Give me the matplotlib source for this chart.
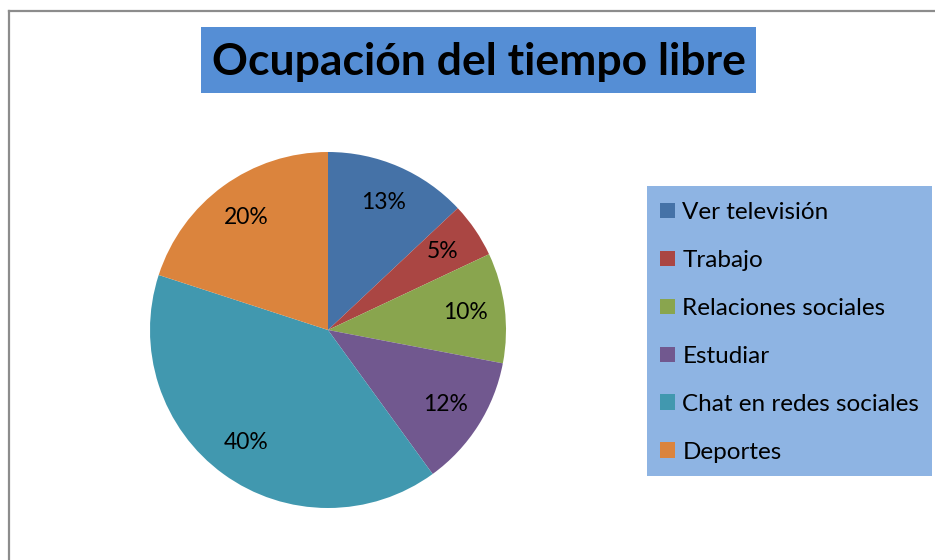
import matplotlib.pyplot as plt
from matplotlib.patches import Rectangle
from matplotlib.lines import Line2D

# data
categorias = ['Ver televisión', 'Trabajo', 'Relaciones sociales', 'Estudiar',
              'Chat en redes sociales', 'Deportes']
porcentajes = [13, 5, 10, 12, 40, 20]
colores = ['#4572A7', '#AA4643', '#89A54E', '#71588F', '#4198AF', '#DB843D']
titulo = 'Ocupación del tiempo libre'

W, H = 935, 560
plt.rcParams['font.family'] = ['Lato', 'DejaVu Sans']

fig = plt.figure(figsize=(W / 100, H / 100), dpi=100)


def fx(x):
    return x / W


def fy(y):
    return 1 - y / H


# chart border (only left and top visible)
fig.add_artist(Line2D([fx(9), fx(9)], [fy(11), 0], color='#8c8c8c', lw=1.6))
fig.add_artist(Line2D([fx(9), 1], [fy(11), fy(11)], color='#8c8c8c', lw=1.6))

# title box
fig.add_artist(Rectangle((fx(201), fy(93)), fx(756) - fx(201), fy(27) - fy(93),
                         transform=fig.transFigure, facecolor='#558ED5', edgecolor='none'))
fig.text(fx(479), fy(62), titulo, ha='center', va='center', fontsize=32,
         fontweight='bold', color='black')

# pie
cx, cy, r = 328, 330, 178
ax = fig.add_axes([fx(cx - r), fy(cy + r), 2 * r / W, 2 * r / H])
wedges, textos, autotextos = ax.pie(porcentajes, colors=colores, startangle=90,
                                    counterclock=False, autopct='%1.0f%%',
                                    pctdistance=0.78, wedgeprops=dict(linewidth=0),
                                    textprops=dict(fontsize=16.5, color='black'))
ax.set_xlim(-1, 1)
ax.set_ylim(-1, 1)
ax.set_aspect('equal')

# legend box
fig.add_artist(Rectangle((fx(647), fy(476)), fx(932) - fx(647), fy(186) - fy(476),
                         transform=fig.transFigure, facecolor='#8EB4E3', edgecolor='none'))
leg = fig.legend(wedges, categorias, loc='upper left',
                 bbox_to_anchor=(fx(660), fy(202)), frameon=False, fontsize=17.5,
                 handlelength=0.62, handleheight=0.62, handletextpad=0.3,
                 labelspacing=1.11, borderpad=0.0, borderaxespad=0.0)

fig.savefig('out.png', dpi=100)
